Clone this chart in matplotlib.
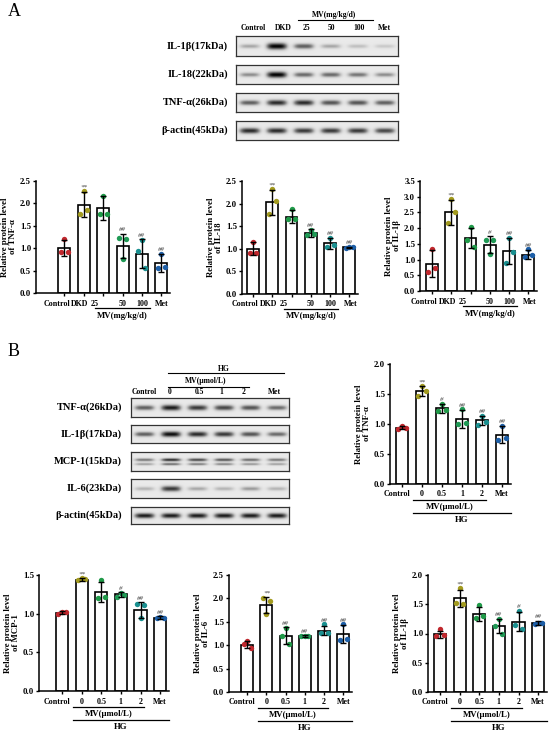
import numpy as np
import matplotlib
matplotlib.use("Agg")
import matplotlib.pyplot as plt
from matplotlib.lines import Line2D
from matplotlib.transforms import offset_copy

# ---- data ----
a_groups = ["Control", "DKD", "25", "50", "100", "Met"]
b_groups = ["Control", "0", "0.5", "1", "2", "Met"]
group_colors = ["#c0272d", "#a39b1f", "#1f9a48", "#1f9a55", "#1a9090", "#1d5fa8"]

a_tnf_mean = [1.0, 1.97, 1.9, 1.05, 0.88, 0.67]
a_tnf_sd = [0.18, 0.28, 0.26, 0.27, 0.32, 0.2]
a_tnf_pts = [[0.92, 1.2, 0.92], [1.76, 2.27, 1.85], [1.77, 2.17, 1.77],
             [1.22, 0.77, 1.2], [0.93, 1.18, 0.55], [0.56, 0.88, 0.57]]
a_tnf_sig = ["", "**", "", "##", "##", "##"]

a_il18_mean = [1.0, 2.03, 1.71, 1.35, 1.12, 1.03]
a_il18_sd = [0.14, 0.28, 0.15, 0.08, 0.13, 0.02]
a_il18_pts = [[0.9, 1.15, 0.9], [1.78, 2.32, 2.05], [1.65, 1.88, 1.65],
              [1.3, 1.42, 1.32], [1.05, 1.25, 1.08], [1.02, 1.04, 1.05]]
a_il18_sig = ["", "**", "", "##", "##", "##"]

a_il1b_mean = [0.87, 2.5, 1.69, 1.47, 1.27, 1.16]
a_il1b_sd = [0.42, 0.4, 0.33, 0.27, 0.42, 0.15]
a_il1b_pts = [[0.62, 1.35, 0.72], [2.17, 2.92, 2.5], [1.62, 2.05, 1.4],
              [1.63, 1.18, 1.63], [0.89, 1.7, 1.24], [1.07, 1.33, 1.13]]
a_il1b_sig = ["", "**", "", "#", "##", "##"]

b_tnf_mean = [0.94, 1.55, 1.26, 1.09, 1.06, 0.82]
b_tnf_sd = [0.03, 0.08, 0.07, 0.15, 0.08, 0.14]
b_tnf_pts = [[0.92, 0.97, 0.94], [1.47, 1.63, 1.55], [1.22, 1.34, 1.24],
             [1.0, 1.25, 1.01], [0.99, 1.14, 1.04], [0.73, 0.97, 0.77]]
b_tnf_sig = ["", "**", "#", "##", "##", "##"]

b_mcp_mean = [1.01, 1.44, 1.28, 1.25, 1.05, 0.95]
b_mcp_sd = [0.02, 0.02, 0.13, 0.03, 0.1, 0.02]
b_mcp_pts = [[0.99, 1.02, 1.02], [1.43, 1.46, 1.45], [1.2, 1.44, 1.22],
             [1.22, 1.27, 1.24], [1.12, 0.94, 1.11], [0.94, 0.96, 0.94]]
b_mcp_sig = ["", "**", "", "#", "##", "##"]

b_il6_mean = [1.01, 1.86, 1.2, 1.19, 1.31, 1.24]
b_il6_sd = [0.08, 0.17, 0.18, 0.02, 0.1, 0.2]
b_il6_pts = [[1.02, 1.09, 0.94], [2.0, 1.67, 1.95], [1.2, 1.37, 1.02],
             [1.19, 1.2, 1.2], [1.26, 1.45, 1.27], [1.11, 1.45, 1.13]]
b_il6_sig = ["", "**", "##", "##", "##", "##"]

b_il1b_mean = [0.99, 1.6, 1.34, 1.13, 1.2, 1.18]
b_il1b_sd = [0.06, 0.15, 0.12, 0.12, 0.16, 0.04]
b_il1b_pts = [[0.95, 1.08, 0.97], [1.52, 1.77, 1.5], [1.27, 1.48, 1.3],
              [1.13, 1.25, 0.99], [1.15, 1.39, 1.07], [1.16, 1.18, 1.18]]
b_il1b_sig = ["", "**", "", "##", "#", "##"]

# western blot band strengths per lane (0..1)
a_blot_names = ["IL-1β(17kDa)", "IL-18(22kDa)", "TNF-α(26kDa)", "β-actin(45kDa)"]
a_blot_bands = [[0.35, 1.0, 0.65, 0.35, 0.25, 0.2],
                [0.45, 1.0, 0.6, 0.6, 0.55, 0.45],
                [0.65, 0.85, 0.85, 0.7, 0.7, 0.65],
                [0.85, 0.85, 0.8, 0.8, 0.8, 0.75]]
b_blot_names = ["TNF-α(26kDa)", "IL-1β(17kDa)", "MCP-1(15kDa)", "IL-6(23kDa)", "β-actin(45kDa)"]
b_blot_bands = [[0.65, 0.9, 0.8, 0.75, 0.7, 0.6],
                [0.65, 0.95, 0.85, 0.8, 0.7, 0.6],
                [0.55, 0.85, 0.75, 0.7, 0.6, 0.55],
                [0.3, 0.8, 0.35, 0.3, 0.4, 0.3],
                [0.9, 0.9, 0.9, 0.9, 0.9, 0.9]]
b_blot_double = [False, False, True, False, False]

plt.rcParams["font.family"] = ["Liberation Serif", "DejaVu Serif"]
plt.rcParams["font.weight"] = "bold"

W, H = 550, 733
fig = plt.figure(figsize=(5.5, 7.33), dpi=100)


def rect(x0, y0, x1, y1):
    return [x0 / W, 1 - y1 / H, (x1 - x0) / W, (y1 - y0) / H]


def ftxt(x, y, s, **kw):
    fig.text(x / W, 1 - y / H, s, **kw)


def fline(x0, x1, y):
    fig.add_artist(Line2D([x0 / W, x1 / W], [1 - y / H, 1 - y / H], color="black", lw=0.8))


def blot_image(bands, double=False):
    lane_w, hgt = 40, 40
    xx = np.arange(lane_w * len(bands))
    yy = np.arange(hgt)[:, None]
    img = np.full((hgt, xx.size), 0.16)
    for i, v in enumerate(bands):
        cx = (i + 0.5) * lane_w
        prof_x = np.exp(-((xx - cx) / 15.0) ** 4)
        if double:
            prof_y = np.exp(-((yy - 16) / 3.2) ** 2) + 0.7 * np.exp(-((yy - 25) / 2.7) ** 2)
        else:
            prof_y = np.exp(-((yy - 20) / (3.0 + 3.5 * v)) ** 2)
        img += 0.84 * v * prof_x * prof_y
    return np.clip(img, 0, 1)


def draw_blots(x0, x1, rows, names, bands, label_x, doubles=None):
    for k, (y0, y1) in enumerate(rows):
        ax = fig.add_axes(rect(x0, y0, x1, y1))
        dbl = doubles[k] if doubles else False
        ax.imshow(blot_image(bands[k], dbl), cmap="Greys", vmin=0, vmax=1,
                  aspect="auto", interpolation="bilinear")
        ax.set_xticks([])
        ax.set_yticks([])
        for s in ax.spines.values():
            s.set_linewidth(0.9)
            s.set_color("#333333")
        ftxt(label_x, (y0 + y1) / 2, names[k], ha="right", va="center", fontsize=7.5, fontweight="bold")


def bar_chart(box, xlim, ylim, step, mean, sd, pts, sig, groups, ylabel, lines, label_shift):
    ax = fig.add_axes(rect(*box))
    x = np.arange(len(groups))
    ax.bar(x, mean, width=0.62, color="white", edgecolor="black", linewidth=1.2, zorder=2)
    offs = np.array([-0.18, 0.0, 0.18])
    for i in range(len(groups)):
        ax.scatter(x[i] + offs, pts[i], s=15, color=group_colors[i], zorder=3, linewidths=0)
    ax.errorbar(x, mean, yerr=sd, fmt="none", ecolor="black", elinewidth=1.0,
                capsize=2.3, capthick=1.0, zorder=4)
    for i, s in enumerate(sig):
        if s:
            top = max(mean[i] + sd[i], max(pts[i]))
            ax.annotate(s, (x[i], top), xytext=(0, 1.0), textcoords="offset points",
                        ha="center", va="bottom", fontsize=5, style="italic",
                        fontweight="normal", color="#444444")
    ax.set_xlim(*xlim)
    ax.set_ylim(*ylim)
    ticks = np.arange(0, ylim[1] + 1e-9, step)
    ax.set_yticks(ticks)
    ax.set_yticklabels(["%.1f" % t for t in ticks], fontsize=6.3, fontweight="bold")
    ax.set_xticks(x)
    ax.set_xticklabels([])
    ax.tick_params(length=2.5, width=1, pad=1)
    for s in ["top", "right"]:
        ax.spines[s].set_visible(False)
    for s in ["left", "bottom"]:
        ax.spines[s].set_linewidth(1.1)
    ax.set_ylabel(ylabel, fontsize=6.3, fontweight="bold", linespacing=1.05, labelpad=2)
    base = ax.get_xaxis_transform()
    # category labels, nudged sideways as in the original layout
    for xi, g, dx in zip(x, groups, label_shift):
        tg = offset_copy(base, fig=fig, x=dx, y=-10.5, units="dots")
        ax.text(xi, 0, g, transform=tg, ha="center", va="center", fontsize=5.8, fontweight="bold")
    for (lx0, lx1, dy_line, label, dy_label) in lines:
        tl = offset_copy(base, fig=fig, y=-dy_line, units="dots")
        ax.plot([lx0, lx1], [0, 0], color="black", lw=0.9, transform=tl, clip_on=False)
        tt = offset_copy(base, fig=fig, y=-dy_label, units="dots")
        ax.text((lx0 + lx1) / 2, 0, label, transform=tt, ha="center", va="center",
                fontsize=6.3, fontweight="bold")
    return ax


# ---- panel letters ----
ftxt(8, 11, "A", fontsize=13, fontweight="normal", va="center")
ftxt(8, 352, "B", fontsize=13, fontweight="normal", va="center")

# ---- panel A blots ----
a_rows = [(36, 56), (65, 84), (93, 112), (121, 140)]
draw_blots(236, 398, a_rows, a_blot_names, a_blot_bands, 228)
a_lane_x = [253, 283, 306, 332, 359, 384]
for lx, g in zip(a_lane_x, a_groups):
    ftxt(lx, 28, g, ha="center", va="center", fontsize=5.5, fontweight="bold")
ftxt(334, 15, "MV(mg/kg/d)", ha="center", va="center", fontsize=5.5, fontweight="bold")
fline(298, 373, 20)

# ---- panel B blots ----
b_rows = [(398, 417), (425, 443), (452, 471), (479, 498), (507, 524)]
draw_blots(131, 289, b_rows, b_blot_names, b_blot_bands, 122, b_blot_double)
b_lane_x = [144, 170, 199, 221, 244, 274]
for lx, g in zip(b_lane_x, b_groups):
    ftxt(lx, 392, g, ha="center", va="center", fontsize=5.5, fontweight="bold")
ftxt(206, 381, "MV(μmol/L)", ha="center", va="center", fontsize=5.5, fontweight="bold")
fline(168, 249, 387)
ftxt(224, 369, "HG", ha="center", va="center", fontsize=5.5, fontweight="bold")
fline(168, 284, 373)

# ---- bar charts ----
a_lines = [(1.6, 4.4, 14.5, "MV(mg/kg/d)", 22.5)]
b_lines = [(0.55, 4.2, 16, "MV(μmol/L)", 23), (0.55, 5.45, 29, "HG", 36)]
a_shift = [-8, -4, -8, 0, 0, 1]
b_shift = [-5, 0, 0, 0, 0, 0]

bar_chart((36, 181, 170, 293), (-1.47, 5.45), (0, 2.5), 0.5, a_tnf_mean, a_tnf_sd,
          a_tnf_pts, a_tnf_sig, a_groups, "Relative protein level\nof TNF-α", a_lines, a_shift)
bar_chart((242, 181, 358, 294), (-0.57, 5.45), (0, 2.5), 0.5, a_il18_mean, a_il18_sd,
          a_il18_pts, a_il18_sig, a_groups, "Relative protein level\nof IL-18", a_lines, a_shift)
bar_chart((420, 181, 537, 291), (-0.62, 5.45), (0, 3.5), 0.5, a_il1b_mean, a_il1b_sd,
          a_il1b_pts, a_il1b_sig, a_groups, "Relative protein level\nof IL-1β", a_lines, a_shift)

bar_chart((390, 364, 511, 484), (-0.6, 5.45), (0, 2.0), 0.5, b_tnf_mean, b_tnf_sd,
          b_tnf_pts, b_tnf_sig, b_groups, "Relative protein level\nof TNF-α", b_lines, b_shift)
bar_chart((39, 575, 169, 691), (-1.17, 5.45), (0, 1.5), 0.5, b_mcp_mean, b_mcp_sd,
          b_mcp_pts, b_mcp_sig, b_groups, "Relative protein level\nof MCP-1", b_lines, b_shift)
bar_chart((229, 575, 352, 692), (-0.94, 5.45), (0, 2.5), 0.5, b_il6_mean, b_il6_sd,
          b_il6_pts, b_il6_sig, b_groups, "Relative protein level\nof IL-6", b_lines, b_shift)
bar_chart((428, 575, 547, 692), (-0.61, 5.45), (0, 2.0), 0.5, b_il1b_mean, b_il1b_sd,
          b_il1b_pts, b_il1b_sig, b_groups, "Relative protein level\nof IL-1β", b_lines, b_shift)

fig.savefig("out.png", dpi=100)
